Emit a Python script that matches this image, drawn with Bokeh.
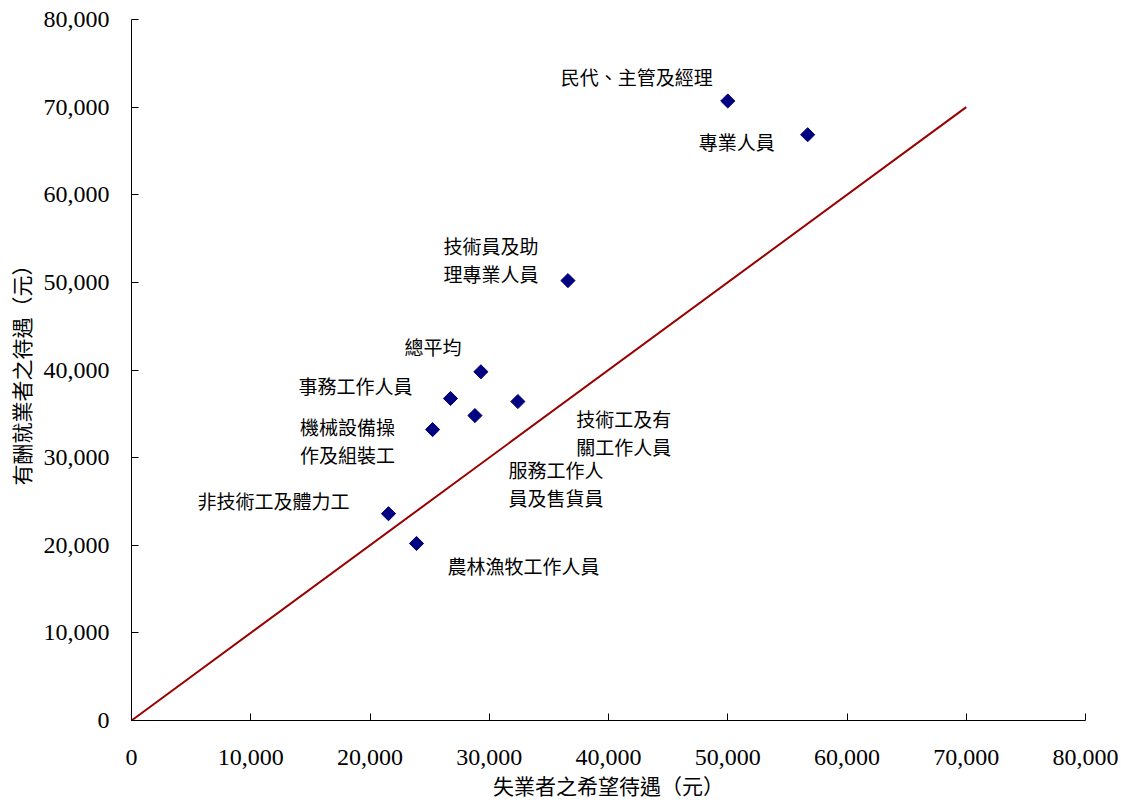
import numpy as np
from bokeh.plotting import figure
from bokeh.models import ColumnDataSource, NumeralTickFormatter, FixedTicker, Range1d
from bokeh.core.properties import value
from bokeh.embed import file_html
from bokeh.resources import INLINE

# ---- data ----
occupations = ["民代、主管及經理", "專業人員", "技術員及助\n理專業人員", "總平均", "事務工作人員",
               "技術工及有\n關工作人員", "服務工作人\n員及售貨員", "機械設備操\n作及組裝工",
               "非技術工及體力工", "農林漁牧工作人員"]
expected_pay = [50000, 56700, 36600, 29300, 26750, 32400, 28800, 25250, 21550, 23900]   # 失業者之希望待遇
employed_pay = [70700, 66850, 50200, 39800, 36750, 36400, 34800, 33200, 23600, 20200]   # 有酬就業者之待遇
ref_x = [0, 70000]
ref_y = [0, 70000]
ticks = [0, 10000, 20000, 30000, 40000, 50000, 60000, 70000, 80000]

# label placement (screen px offsets from the point)
label_dx = [-91, -71, -77, -48, -95, 106, 81, -85, -115, 107]
label_dy = [-24, 7, -21, -25, -13, 31, 68, 11, -13, 22]

CJK = "Noto Sans CJK TC"
SERIF = "Liberation Serif"

W, H = 1121, 805
p = figure(width=W, height=H, output_backend="svg", toolbar_location=None,
           x_range=Range1d(0, 80000), y_range=Range1d(0, 80000),
           min_border_left=131, min_border_right=W - 1085,
           min_border_top=19, min_border_bottom=H - 720)
p.outline_line_color = None
p.xgrid.visible = False
p.ygrid.visible = False
p.background_fill_color = "white"
p.border_fill_color = "white"

for ax in (p.xaxis[0], p.yaxis[0]):
    ax.ticker = FixedTicker(ticks=ticks)
    ax.formatter = NumeralTickFormatter(format="0,0")
    ax.major_tick_in = 7
    ax.major_tick_out = 0
    ax.minor_tick_line_color = None
    ax.axis_line_color = "black"
    ax.major_tick_line_color = "black"
    ax.major_label_text_font = SERIF
    ax.major_label_text_font_size = "24px"
    ax.major_label_text_color = "black"
    ax.axis_label_text_font = CJK
    ax.axis_label_text_font_size = "21px"
    ax.axis_label_text_font_style = "normal"
    ax.axis_label_text_color = "black"

p.xaxis.axis_label = "失業者之希望待遇（元）"
p.yaxis.axis_label = "有酬就業者之待遇（元）"
p.xaxis.major_label_standoff = 29
p.xaxis.axis_label_standoff = 2
p.yaxis.major_label_standoff = 22
p.yaxis.axis_label_standoff = 5

# reference line
p.line(ref_x, ref_y, line_color="#990000", line_width=2)

src = ColumnDataSource(dict(x=expected_pay, y=employed_pay, name=occupations,
                            dx=label_dx, dy=label_dy))
p.scatter("x", "y", source=src, marker="square", angle=np.pi / 4, size=10,
          fill_color="#000080", line_color="#000080")
p.text("x", "y", text="name", source=src, x_offset="dx", y_offset="dy",
       text_font=value(CJK), text_font_size="19px", text_color="black",
       text_align="center", text_baseline="middle", text_line_height=1.05)

open("out.html", "w").write(file_html(p, INLINE))
